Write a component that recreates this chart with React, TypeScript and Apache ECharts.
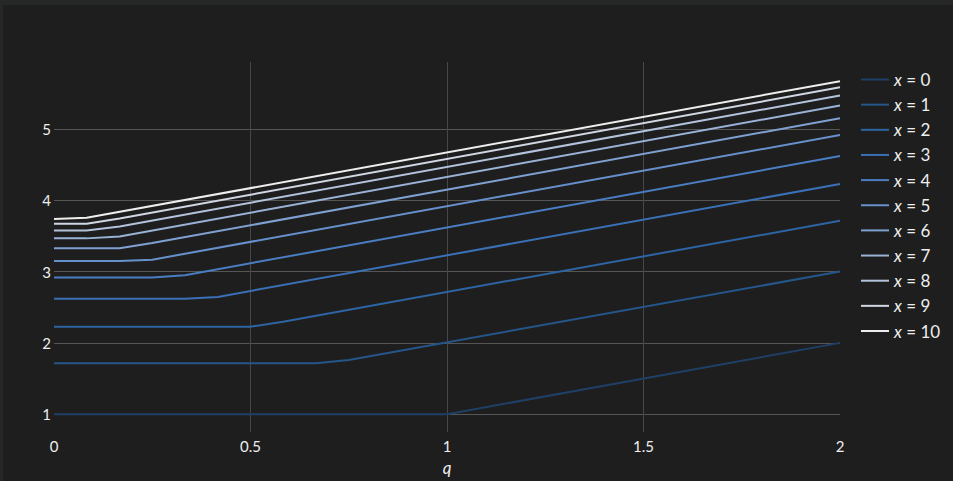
import React, { useEffect, useRef } from "react";
import * as echarts from "echarts";

// q positions of polyline vertices and values for each x
const seriesNames = ["0", "1", "2", "3", "4", "5", "6", "7", "8", "9", "10"];
const qVerts: number[][] = [
  [0, 1, 2],
  [0, 0.667, 0.75, 2],
  [0, 0.5, 0.583, 2],
  [0, 0.333, 0.417, 2],
  [0, 0.25, 0.333, 2],
  [0, 0.167, 0.25, 2],
  [0, 0.167, 0.25, 2],
  [0, 0.083, 0.167, 2],
  [0, 0.083, 0.167, 2],
  [0, 0.083, 0.167, 2],
  [0, 0.083, 2],
];
const yVerts: number[][] = [
  [1, 1, 2],
  [1.713, 1.713, 1.76, 3.0],
  [2.227, 2.227, 2.298, 3.713],
  [2.618, 2.618, 2.645, 4.229],
  [2.916, 2.916, 2.95, 4.62],
  [3.15, 3.15, 3.167, 4.916],
  [3.326, 3.326, 3.4, 5.15],
  [3.466, 3.466, 3.493, 5.33],
  [3.578, 3.578, 3.633, 5.47],
  [3.671, 3.671, 3.745, 5.585],
  [3.737, 3.754, 5.671],
];
const lineColors = [
  "#1f3f66", "#24568a", "#2d64a4", "#3a70b6", "#4a7dc2", "#6690cc",
  "#7fa1d2", "#99b2d6", "#b4c3dc", "#d0d7e2", "#eeeeee",
];
const yTicks = [1, 2, 3, 4, 5];
const xGridTicks = [0.5, 1, 1.5];
const xLabels = [0, 0.5, 1, 1.5, 2];

export default function App() {
  const ref = useRef<HTMLDivElement>(null);
  useEffect(() => {
    document.body.style.margin = "0";
    document.body.style.background = "#262828";
    const chart = echarts.init(ref.current!, undefined, { renderer: "svg" });
    const font = "Lato";
    chart.setOption({
      animation: false,
      backgroundColor: "#1e1e1e",
      textStyle: { fontFamily: font },
      grid: { left: 51, top: 57, width: 786, height: 371, containLabel: false },
      xAxis: {
        type: "value",
        min: 0,
        max: 2,
        name: "q",
        nameLocation: "middle",
        nameGap: 27,
        nameTextStyle: { color: "#eeeeee", fontSize: 17, fontStyle: "italic", fontFamily: font },
        axisLine: { show: false },
        axisTick: { show: false, customValues: xGridTicks },
        axisLabel: { customValues: xLabels, color: "#eeeeee", fontSize: 15, margin: 6, fontFamily: font },
        splitLine: { show: true, lineStyle: { color: "#474747", width: 1 } },
      },
      yAxis: {
        type: "value",
        min: 0.75,
        max: 5.94,
        axisLine: { show: false },
        axisTick: { show: false, customValues: yTicks },
        axisLabel: { customValues: yTicks, color: "#eeeeee", fontSize: 15, margin: 3, fontFamily: font },
        splitLine: { show: true, lineStyle: { color: "#555555", width: 1 } },
      },
      legend: {
        orient: "vertical",
        left: 858,
        top: 66,
        padding: 0,
        icon: "rect",
        itemWidth: 28,
        itemHeight: 2,
        itemGap: 8.15,
        inactiveColor: "#666",
        formatter: (name: string) => `{i|x} = ${name.replace("x = ", "")}`,
        textStyle: {
          color: "#eeeeee",
          fontSize: 17,
          fontFamily: font,
          rich: { i: { fontStyle: "italic", fontSize: 17, color: "#eeeeee", fontFamily: font } },
        },
        data: seriesNames.map((n) => "x = " + n),
      },
      series: seriesNames.map((n, i) => ({
        name: "x = " + n,
        type: "line",
        symbol: "none",
        color: lineColors[i],
        lineStyle: { width: 2, color: lineColors[i] },
        data: qVerts[i].map((q, j) => [q, yVerts[i][j]]),
      })),
    });
    return () => chart.dispose();
  }, []);
  return (
    <div style={{ paddingLeft: 3, paddingTop: 5, width: 950, height: 476 }}>
      <div ref={ref} style={{ width: 950, height: 476 }} />
    </div>
  );
}
